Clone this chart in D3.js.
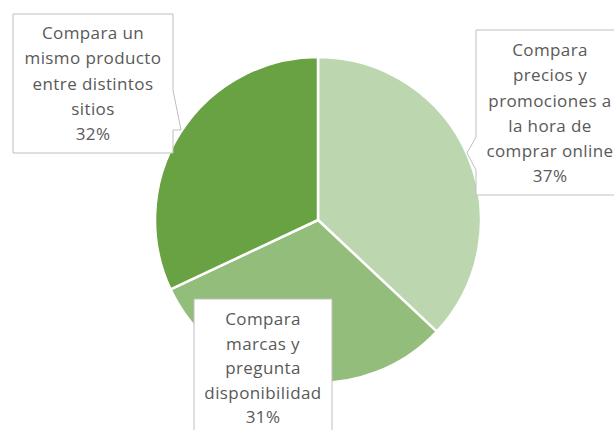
<!DOCTYPE html>
<html>
<head>
<meta charset="utf-8">
<script src="https://cdn.jsdelivr.net/npm/d3@7"></script>
<style>
  html, body { margin: 0; padding: 0; background: #ffffff; }
  svg { display: block; }
</style>
</head>
<body>
<svg id="chart" width="614" height="430"></svg>
<script>
// Shares of shoppers by comparison behaviour
const categories = [
  "Compara precios y promociones a la hora de comprar online",
  "Compara marcas y pregunta disponibilidad",
  "Compara un mismo producto entre distintos sitios"
];
const values = [37, 31, 32];
const colors = ["#bcd6b0", "#93bd7b", "#69a243"];

// Text lines of each data label (category wrapped, then the percentage)
const labelLines = [
  ["Compara", "precios y", "promociones a", "la hora de", "comprar online"],
  ["Compara", "marcas y", "pregunta", "disponibilidad"],
  ["Compara un", "mismo producto", "entre distintos", "sitios"]
];

// Callout boxes: rectangle plus optional pointer on one side
const callouts = [
  { x: 476, y: 30, w: 170, h: 165, side: "left", p0: 107, p1: 140, tipDx: -9, tipY: 123, textX: 550, textY: 50, lineH: 25.3 },
  { x: 194, y: 299, w: 138, h: 150, side: null, textX: 263, textY: 319, lineH: 24.6 },
  { x: 13, y: 14, w: 160, h: 139, side: "right", p0: 76, p1: 116, tipDx: 8, tipY: 116, textX: 93, textY: 33, lineH: 25.3 }
];

const svg = d3.select("#chart");
const cx = 318, cy = 220, radius = 163;

const pie = d3.pie().sort(null).value(d => d)(values);
const arc = d3.arc().innerRadius(0).outerRadius(radius);

const g = svg.append("g").attr("transform", `translate(${cx},${cy})`);
g.selectAll("path.slice")
  .data(pie)
  .join("path")
  .attr("class", "slice")
  .attr("d", arc)
  .attr("fill", (d, i) => colors[i])
  .attr("stroke", "#ffffff")
  .attr("stroke-width", 2.5)
  .attr("stroke-linejoin", "round");

// Callout outline as a polygon path
function calloutPath(c) {
  const x0 = c.x, y0 = c.y, x1 = c.x + c.w, y1 = c.y + c.h;
  const pts = [];
  pts.push([x0, y0], [x1, y0]);
  if (c.side === "right") {
    pts.push([x1, y0 + c.p0], [x1 + c.tipDx, y0 + c.tipY], [x1, y0 + c.p1]);
  }
  pts.push([x1, y1], [x0, y1]);
  if (c.side === "left") {
    pts.push([x0, y0 + c.p1], [x0 + c.tipDx, y0 + c.tipY], [x0, y0 + c.p0]);
  }
  return d3.line()(pts) + "Z";
}

const labels = svg.selectAll("g.label")
  .data(pie)
  .join("g")
  .attr("class", "label");

labels.append("path")
  .attr("d", (d, i) => calloutPath(callouts[i]))
  .attr("fill", "#ffffff")
  .attr("stroke", "#bfbfbf")
  .attr("stroke-width", 1);

labels.each(function(d, i) {
  const c = callouts[i];
  const lines = labelLines[i].concat([d3.format(".0%")(d.data / 100)]);
  const t = d3.select(this).append("text")
    .attr("text-anchor", "middle")
    .attr("font-family", "'Open Sans', sans-serif")
    .attr("font-size", 17)
    .attr("letter-spacing", 0.4)
    .attr("fill", "#595959");
  lines.forEach((ln, k) => {
    t.append("tspan")
      .attr("x", c.textX)
      .attr("y", c.textY + k * c.lineH)
      .attr("dy", "0.35em")
      .text(ln);
  });
});
</script>
</body>
</html>
